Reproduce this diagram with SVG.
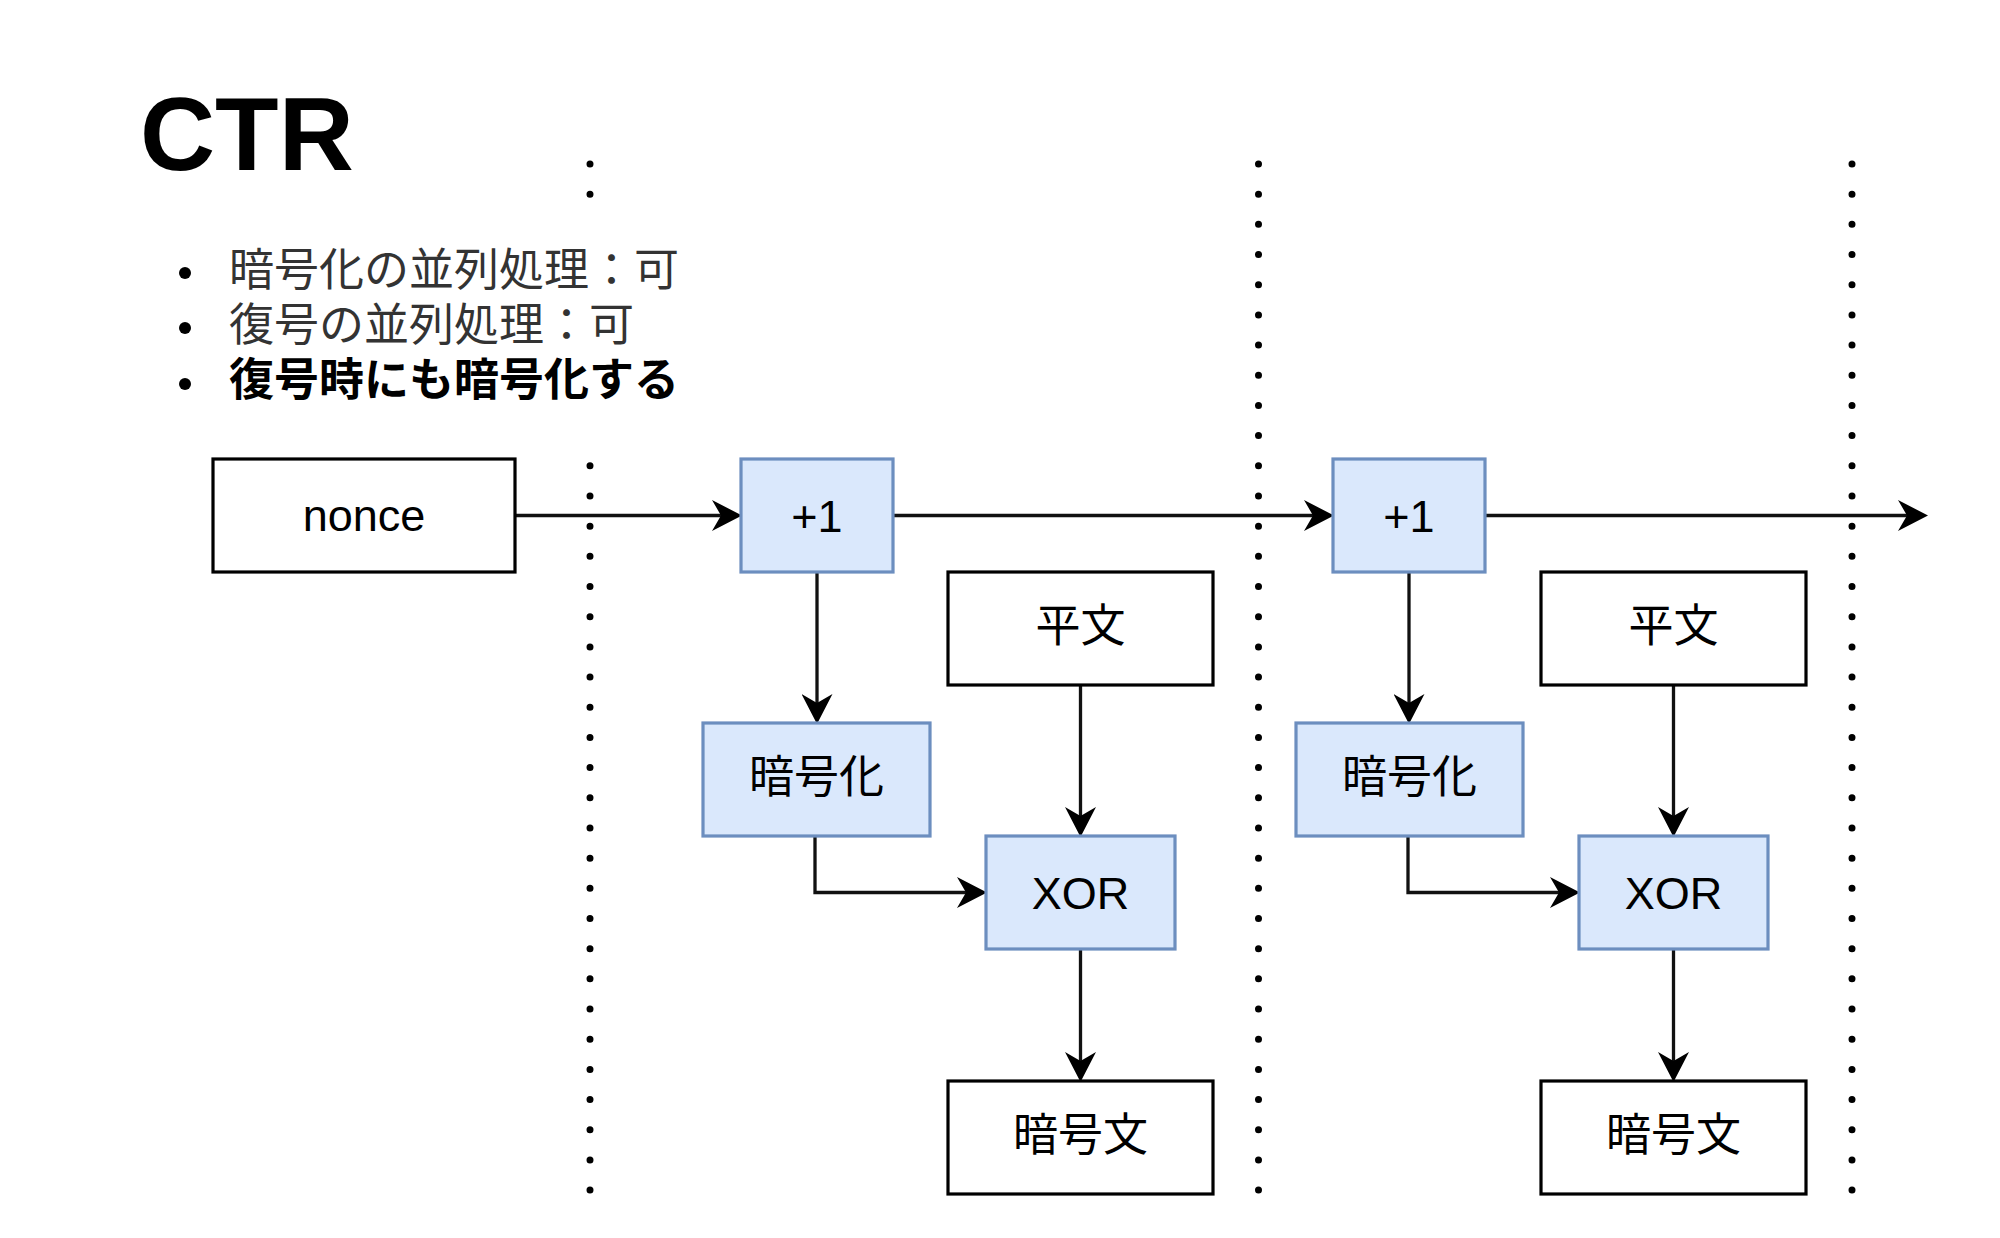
<svg xmlns="http://www.w3.org/2000/svg" width="2000" height="1238" viewBox="0 0 2000 1238">
<defs>
<style>
.t{font-family:"Liberation Sans","Noto Sans CJK JP",sans-serif;font-size:45px;fill:#000;text-anchor:middle}
.plain{fill:#fff;stroke:#000;stroke-width:3.2}
.blue{fill:#dae8fc;stroke:#6c8ebf;stroke-width:3.2}
.edge{fill:none;stroke:#111;stroke-width:3.3;marker-end:url(#arr)}
.dots{stroke:#000;stroke-width:7;stroke-linecap:round;stroke-dasharray:0 30.18;fill:none}
.li{font-family:"Liberation Sans","Noto Sans CJK JP",sans-serif;font-size:45px}
</style>
<marker id="arr" markerUnits="userSpaceOnUse" markerWidth="30" markerHeight="31" viewBox="0 0 30 31" refX="9" refY="15.5" orient="auto">
<path d="M0,0 L30,15.5 L0,31 L9,15.5 Z" fill="#000"/>
</marker>
</defs>
<rect width="2000" height="1238" fill="#fff"/>

<g id="separators">
<path class="dots" d="M590,164 V195"/>
<path class="dots" d="M590,465.8 V1191"/>
<path class="dots" d="M1258.5,164 V1191"/>
<path class="dots" d="M1852,164 V1191"/>
</g>

<g id="title">
<text x="140" y="170" font-family="Liberation Sans, Arial, sans-serif" font-size="104" font-weight="bold" fill="#000">CTR</text>
</g>

<g id="notes">
<circle cx="185" cy="273" r="6" fill="#000"/>
<circle cx="185" cy="328" r="6" fill="#000"/>
<circle cx="185" cy="384" r="6" fill="#000"/>
<text class="li" x="229" y="286" fill="#333">暗号化の並列処理：可</text>
<text class="li" x="229" y="341" fill="#333">復号の並列処理：可</text>
<text class="li" x="229" y="396" fill="#000" font-weight="bold">復号時にも暗号化する</text>
</g>

<g id="connectors">
<path class="edge" d="M515,515.5 H721"/>
<path class="edge" d="M893,515.5 H1313"/>
<path class="edge" d="M1485,515.5 H1907"/>
<path class="edge" d="M817,572 V703"/>
<path class="edge" d="M1080.5,685 V816"/>
<path class="edge" d="M815,836 V892.5 H966"/>
<path class="edge" d="M1080.5,949 V1061"/>
<path class="edge" d="M1409,572 V703"/>
<path class="edge" d="M1673.5,685 V816"/>
<path class="edge" d="M1408,836 V892.5 H1559"/>
<path class="edge" d="M1673.5,949 V1061"/>
</g>

<g id="nonce">
<rect class="plain" x="213" y="459" width="302" height="113"/>
<text class="t" x="364" y="531">nonce</text>
</g>

<g id="inc1">
<rect class="blue" x="741" y="459" width="152" height="113"/>
<text class="t" x="817" y="531.5">+1</text>
</g>
<g id="plain1">
<rect class="plain" x="948" y="572" width="265" height="113"/>
<text class="t" x="1080.5" y="641.5">平文</text>
</g>
<g id="enc1">
<rect class="blue" x="703" y="723" width="227" height="113"/>
<text class="t" x="816.5" y="792.5">暗号化</text>
</g>
<g id="xor1">
<rect class="blue" x="986" y="836" width="189" height="113"/>
<text class="t" x="1080.5" y="908.5">XOR</text>
</g>
<g id="cipher1">
<rect class="plain" x="948" y="1081" width="265" height="113"/>
<text class="t" x="1080.5" y="1150.5">暗号文</text>
</g>

<g id="inc2">
<rect class="blue" x="1333" y="459" width="152" height="113"/>
<text class="t" x="1409" y="531.5">+1</text>
</g>
<g id="plain2">
<rect class="plain" x="1541" y="572" width="265" height="113"/>
<text class="t" x="1673.5" y="641.5">平文</text>
</g>
<g id="enc2">
<rect class="blue" x="1296" y="723" width="227" height="113"/>
<text class="t" x="1409.5" y="792.5">暗号化</text>
</g>
<g id="xor2">
<rect class="blue" x="1579" y="836" width="189" height="113"/>
<text class="t" x="1673.5" y="908.5">XOR</text>
</g>
<g id="cipher2">
<rect class="plain" x="1541" y="1081" width="265" height="113"/>
<text class="t" x="1673.5" y="1150.5">暗号文</text>
</g>
</svg>
